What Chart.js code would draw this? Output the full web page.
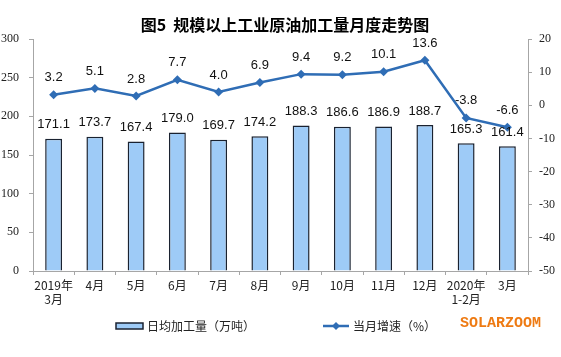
<!DOCTYPE html>
<html>
<head>
<meta charset="utf-8">
<script src="https://cdn.jsdelivr.net/npm/chart.js@4"></script>
<style>
html,body{margin:0;padding:0;background:#fff;}
#wrap{width:561px;height:357px;position:relative;}
</style>
</head>
<body>
<div id="wrap"><canvas id="c"></canvas></div>
<script>
const categories = [["2019年","3月"],"4月","5月","6月","7月","8月","9月","10月","11月","12月",["2020年","1-2月"],"3月"];
const dailyOutput = [171.1,173.7,167.4,179.0,169.7,174.2,188.3,186.6,186.9,188.7,165.3,161.4];
const monthlyGrowth = [3.2,5.1,2.8,7.7,4.0,6.9,9.4,9.2,10.1,13.6,-3.8,-6.6];
const titleText = "图5  规模以上工业原油加工量月度走势图";
const barLegend = "日均加工量（万吨）";
const lineLegend = "当月增速（%）";
const watermark = "SOLARZOOM";

const CJK = '"Noto Sans CJK SC", "Noto Sans", sans-serif';
const lineColor = '#2F6DB5';
const barFill = '#9ECBF7';
const barBorder = '#1A2230';
const axisColor = '#A6A6A6';

const overlay = {
  id: 'overlay',
  afterDatasetsDraw(chart) {
    const ctx = chart.ctx;
    ctx.save();
    ctx.fillStyle = '#111';
    ctx.font = '13px "Liberation Sans", Arial, sans-serif';
    ctx.textAlign = 'center';
    ctx.textBaseline = 'middle';
    chart.getDatasetMeta(0).data.forEach((el, i) => {
      ctx.fillText(dailyOutput[i].toFixed(1), el.x, el.y - 14);
    });
    chart.getDatasetMeta(1).data.forEach((el, i) => {
      ctx.fillText(monthlyGrowth[i].toFixed(1), el.x, el.y - 17);
    });
    ctx.restore();
  },
  afterDraw(chart) {
    const ctx = chart.ctx;
    ctx.save();
    // title
    ctx.fillStyle = '#000';
    ctx.font = 'bold 16px ' + CJK;
    ctx.textAlign = 'center';
    ctx.textBaseline = 'middle';
    ctx.fillText(titleText, 285, 25);
    // legend
    const ly = 326;
    ctx.fillStyle = barFill;
    ctx.fillRect(116, ly - 3, 27, 6);
    ctx.strokeStyle = barBorder;
    ctx.lineWidth = 1.5;
    ctx.strokeRect(116, ly - 3, 27, 6);
    ctx.fillStyle = '#222';
    ctx.font = '12px ' + CJK;
    ctx.textAlign = 'left';
    ctx.fillText(barLegend, 147, ly);
    ctx.strokeStyle = lineColor;
    ctx.lineWidth = 2.5;
    ctx.beginPath(); ctx.moveTo(323, ly); ctx.lineTo(349, ly); ctx.stroke();
    ctx.fillStyle = lineColor;
    ctx.beginPath();
    ctx.moveTo(336, ly - 4); ctx.lineTo(340, ly); ctx.lineTo(336, ly + 4); ctx.lineTo(332, ly); ctx.closePath(); ctx.fill();
    ctx.fillStyle = '#222';
    ctx.fillText(lineLegend, 353, ly);
    // watermark
    ctx.fillStyle = '#EE7A12';
    ctx.font = 'bold 15px "Liberation Mono", "DejaVu Sans Mono", monospace';
    ctx.fillText(watermark, 460, 323);
    ctx.restore();
  }
};

new Chart(document.getElementById('c'), {
  data: {
    labels: categories,
    datasets: [
      {
        type: 'bar',
        label: barLegend,
        data: dailyOutput,
        yAxisID: 'y',
        backgroundColor: barFill,
        borderColor: barBorder,
        borderWidth: 1.5,
        barPercentage: 0.41,
        categoryPercentage: 1.0,
        order: 2
      },
      {
        type: 'line',
        label: lineLegend,
        data: monthlyGrowth,
        yAxisID: 'y1',
        borderColor: lineColor,
        backgroundColor: lineColor,
        borderWidth: 2.5,
        pointStyle: 'rectRot',
        pointRadius: 4.5,
        pointBorderWidth: 0,
        tension: 0,
        order: 1
      }
    ]
  },
  options: {
    responsive: true,
    maintainAspectRatio: false,
    animation: false,
    layout: { padding: { top: 39, left: 0, right: 0, bottom: 0 } },
    plugins: {
      legend: { display: false },
      title: { display: false },
      tooltip: { enabled: false }
    },
    scales: {
      x: {
        offset: true,
        grid: { display: true, drawOnChartArea: false, drawTicks: true, tickLength: 4, color: axisColor, offset: true },
        border: { display: true, color: axisColor, width: 1 },
        ticks: { color: '#222', font: { family: CJK, size: 12, lineHeight: 1.17 }, padding: 3, maxRotation: 0, autoSkip: false },
        afterFit(s) { s.height = 86; }
      },
      y: {
        position: 'left',
        min: 0, max: 300,
        ticks: { stepSize: 50, color: '#222', font: { family: '"Liberation Serif", "DejaVu Serif", serif', size: 12 }, padding: 10 },
        grid: { drawOnChartArea: false, drawTicks: true, tickLength: 4, color: axisColor },
        border: { display: true, color: axisColor, width: 1 },
        afterFit(s) { s.width = 33; }
      },
      y1: {
        position: 'right',
        min: -50, max: 20,
        ticks: { stepSize: 10, color: '#222', font: { family: '"Liberation Serif", "DejaVu Serif", serif', size: 12 }, padding: 7 },
        grid: { drawOnChartArea: false, drawTicks: true, tickLength: 4, color: axisColor },
        border: { display: true, color: axisColor, width: 1 },
        afterFit(s) { s.width = 33; }
      }
    }
  },
  plugins: [overlay]
});
</script>
</body>
</html>
